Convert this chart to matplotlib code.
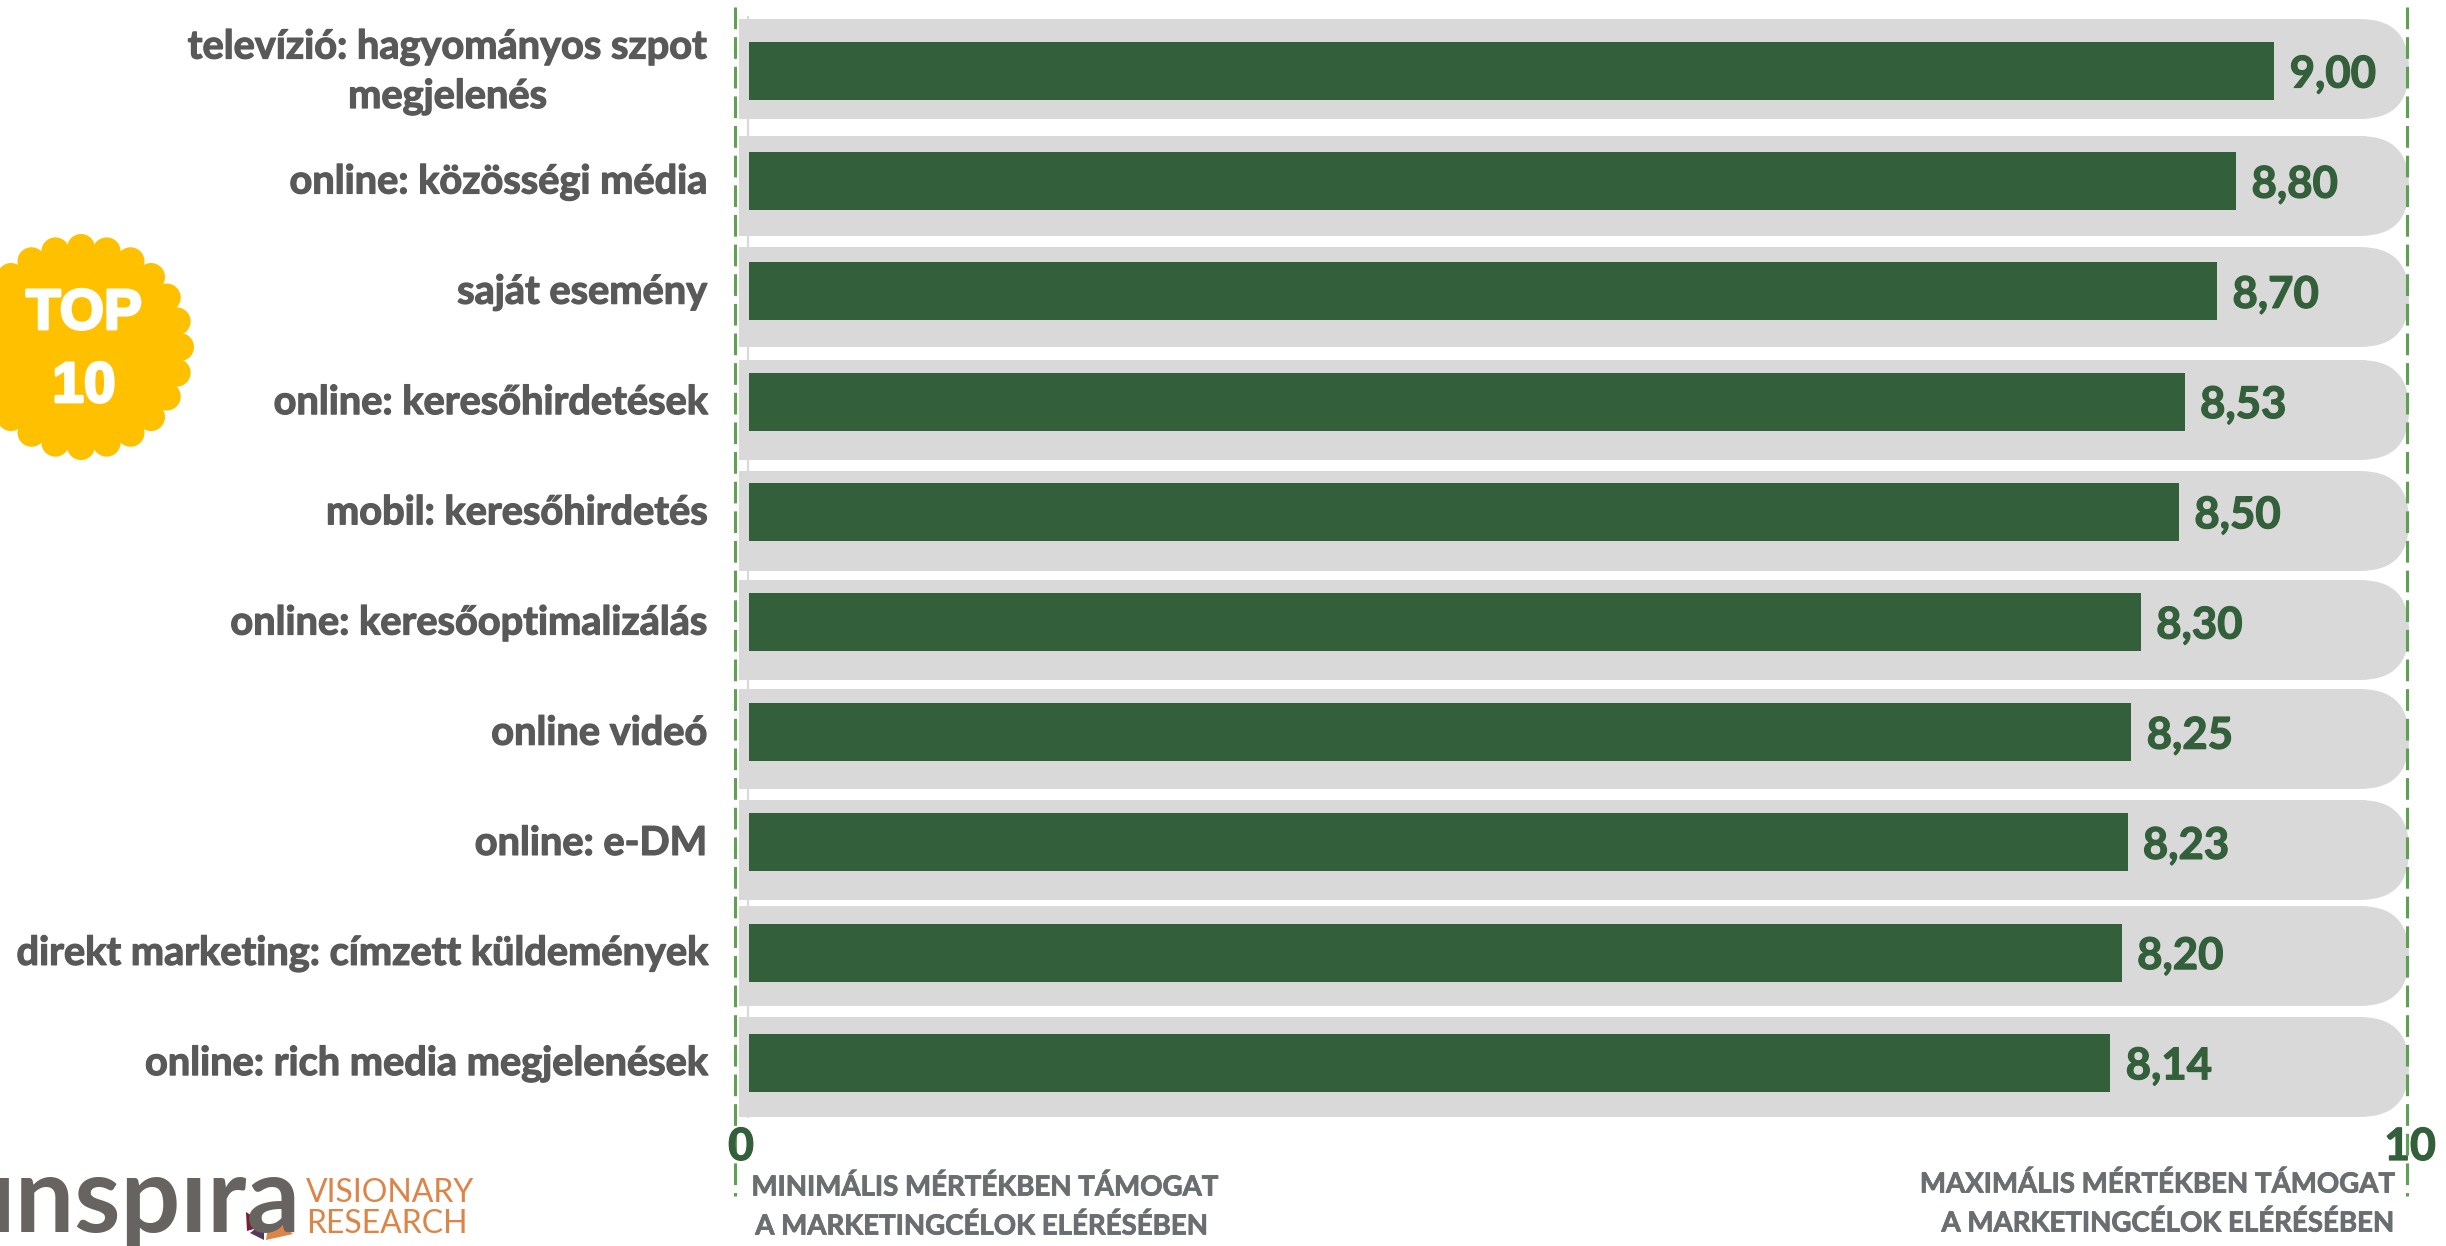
import numpy as np
import matplotlib
matplotlib.use("Agg")
import matplotlib.pyplot as plt
from matplotlib.patches import Rectangle, FancyBboxPatch, Circle, Polygon
import matplotlib.patheffects as pe

categories = ["televízió: hagyományos szpot\nmegjelenés", "online: közösségi média", "saját esemény",
              "online: keresőhirdetések", "mobil: keresőhirdetés", "online: keresőoptimalizálás",
              "online videó", "online: e-DM", "direkt marketing: címzett küldemények",
              "online: rich media megjelenések"]
values = [9.00, 8.80, 8.70, 8.53, 8.50, 8.30, 8.25, 8.23, 8.20, 8.14]
value_labels = ["9,00", "8,80", "8,70", "8,53", "8,50", "8,30", "8,25", "8,23", "8,20", "8,14"]

W, H = 2446, 1246
GREEN = "#33603A"
DASH = "#5FA052"
GREY = "#D9D9D9"
TEXT = "#595959"
CAPTION = "#6B6E70"
FONT = ["Lato", "DejaVu Sans"]


def heavy(color, w=0.9):
    # Lato bold is a bit lighter than the original face
    return [pe.withStroke(linewidth=w, foreground=color)]


fig = plt.figure(figsize=(W / 100, H / 100), dpi=100, facecolor="white")

# background layer in pixel coordinates
bg = fig.add_axes([0, 0, 1, 1], zorder=0)
bg.set_xlim(0, W)
bg.set_ylim(H, 0)
bg.axis("off")

bg.plot([748, 748], [16, 1118], color=GREY, lw=1.6, solid_capstyle="butt")

pill_centers = [69, 186, 297, 410, 521, 630, 739, 850, 956, 1067]
for c in pill_centers:
    bg.add_patch(FancyBboxPatch((739, c - 50), 2409 - 739, 100, boxstyle="round,pad=0,rounding_size=49",
                                fc=GREY, ec="none"))
    bg.add_patch(Rectangle((739, c - 50), 100, 100, fc=GREY, ec="none"))

for x in [735, 2407]:
    bg.plot([x, x], [7, 1196], color=DASH, lw=2.2, dashes=(7.1, 2.6), dash_capstyle="butt")

# top 10 badge
cx, cy = 81, 347
bg.add_patch(Circle((cx, cy), 98, fc="#FFC000", ec="none"))
for a in np.arange(0, 360, 15):
    bg.add_patch(Circle((cx + 99 * np.sin(np.radians(a)), cy + 99 * np.cos(np.radians(a))), 14, fc="#FFC000", ec="none"))
stroke = [pe.withStroke(linewidth=2, foreground="white")]
bg.text(cx + 3, 314, "TOP", color="white", fontsize=41, fontweight="bold", family="Liberation Sans",
        ha="center", va="center", path_effects=stroke)
bg.text(cx + 3, 387, "10", color="white", fontsize=41, fontweight="bold", family="Liberation Sans",
        ha="center", va="center", path_effects=stroke)

# logo
bg.text(-12, 1232, "ınspıra", color="#666360", fontsize=76, fontweight="bold", family=FONT, ha="left", va="baseline")
bg.add_patch(Polygon([[246, 1212], [257, 1219], [257, 1228], [247, 1231]], fc="#7A1E34", ec="none"))
bg.add_patch(Polygon([[250, 1233], [259, 1226], [264, 1228], [264, 1240]], fc="#56375F", ec="none"))
bg.add_patch(Polygon([[268, 1227], [281, 1225], [293, 1234], [266, 1240]], fc="#DD8547", ec="none"))
bg.text(306, 1193, "VISIONARY", color="#DD8547", fontsize=23, family=FONT, ha="left", va="center")
bg.text(306, 1224, "RESEARCH", color="#DD8547", fontsize=23, family=FONT, ha="left", va="center")

# bars on their own axes, value axis starts at 1 on the left edge
ax = fig.add_axes([749 / W, 0, (W - 749) / W, 1], zorder=1)
ax.patch.set_visible(False)
ax.set_xlim(1, 9.9)
ax.set_ylim((H - 71) / 110.2, -71 / 110.2)
ax.axis("off")
y = np.arange(len(values))
ax.barh(y, values, left=0, height=58 / 110.2, color=GREEN)
for i, v in enumerate(values):
    ax.annotate(value_labels[i], (v, i), xytext=(11, -2.5), textcoords="offset points", color=GREEN,
                fontsize=31.5, fontweight="bold", family=FONT, ha="left", va="center", clip_on=False,
                path_effects=heavy(GREEN))

for i, c in enumerate(categories):
    bg.text(707, 72 + 110.2 * i, c, color=TEXT, fontsize=28.6, fontweight="bold", family=FONT,
            ha="right", va="center", multialignment="center", linespacing=1.4, path_effects=heavy(TEXT))

# axis end labels and captions
fg = fig.add_axes([0, 0, 1, 1], zorder=2)
fg.patch.set_visible(False)
fg.set_xlim(0, W)
fg.set_ylim(H, 0)
fg.axis("off")
fg.text(741, 1147, "0", color=GREEN, fontsize=32, fontweight="bold", family=FONT, ha="center", va="center",
        path_effects=heavy(GREEN))
fg.text(2410, 1147, "10", color=GREEN, fontsize=32, fontweight="bold", family=FONT, ha="center", va="center",
        path_effects=heavy(GREEN))
fg.text(985, 1187, "MINIMÁLIS MÉRTÉKBEN TÁMOGAT", color=CAPTION, fontsize=19.9, fontweight="bold", family=FONT,
        ha="center", va="center", path_effects=heavy(CAPTION, 0.6))
fg.text(982, 1226, "A MARKETINGCÉLOK ELÉRÉSÉBEN", color=CAPTION, fontsize=19.9, fontweight="bold", family=FONT,
        ha="center", va="center", path_effects=heavy(CAPTION, 0.6))
fg.text(2395, 1184, "MAXIMÁLIS MÉRTÉKBEN TÁMOGAT", color=CAPTION, fontsize=19.9, fontweight="bold", family=FONT,
        ha="right", va="center", path_effects=heavy(CAPTION, 0.6))
fg.text(2395, 1223, "A MARKETINGCÉLOK ELÉRÉSÉBEN", color=CAPTION, fontsize=19.9, fontweight="bold", family=FONT,
        ha="right", va="center", path_effects=heavy(CAPTION, 0.6))

fig.savefig("out.png", dpi=100)
